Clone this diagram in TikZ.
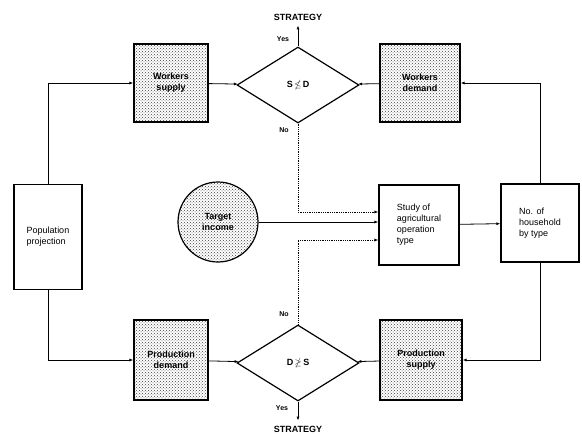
\documentclass[tikz,border=0pt]{standalone}
\usepackage{amsmath,amssymb}
\usepackage{fontspec}
\setsansfont{Liberation Sans}
\usetikzlibrary{
  arrows.meta,       % for arrow tips
  patterns,          % for stippled boxes
  shapes.geometric,  % for diamond
  positioning}
\tikzset{
  plain box/.style={
    shape=rectangle, draw, very thick, align=left, font=\sffamily\small,
    minimum width=#1, minimum height=78pt, inner sep=3pt},
  plain box/.default=78pt,
  stipple box/.style={
    plain box=#1, align=center, font=\sffamily\small\bfseries,
    pattern=crosshatch dots, pattern color=black!75},
  stipple box/.default=74pt,
  test/.style={
    shape=diamond, draw, very thick, aspect=1.6, inner sep=0pt,
    minimum width=122pt, minimum height=76pt, font=\sffamily\small\bfseries},
  small label/.style={font=\sffamily\scriptsize\bfseries, inner sep=1pt},
  flow/.style={thick, -{Latex[length=4pt,width=3pt]}},
  maybe/.style={flow, densely dotted}
}

\begin{document}
\begin{tikzpicture}[x=1pt, y=-1pt]
\useasboundingbox (0,0) rectangle (582,437);

% left and right columns
\node[plain box=68pt, minimum height=105pt] (pop) at (48,237)
  {Population\\projection};
\node[plain box] (hh) at (540,223) {No. of\\household\\by type};

% top row
\node[stipple box] (wsup) at (171,83) {Workers\\supply};
\node[test] (s-test) at (298,85) {S\,$\boldsymbol{\nleq}$\,D};
\node[stipple box=80pt] (wdem) at (420,83) {Workers\\demand};

% middle row
\node[shape=circle, draw, very thick, minimum size=80pt,
  pattern=crosshatch dots, pattern color=black!75,
  align=center, font=\sffamily\small\bfseries] (tgt) at (218,222)
  {Target\\income};
\node[plain box=80pt, minimum height=80pt] (study) at (419,225)
  {Study of\\agricultural\\operation\\type};

% bottom row
\node[stipple box, minimum height=80pt] (pdem) at (171,360)
  {Production\\demand};
\node[test] (d-test) at (298,363) {D\,$\boldsymbol{\ngeq}$\,S};
\node[stipple box=82pt, minimum height=80pt] (psup) at (421,360)
  {Production\\supply};

% strategy exits
\node[small label, font=\sffamily\small\bfseries] (strat-t) at (298,17) {STRATEGY};
\node[small label, font=\sffamily\small\bfseries] (strat-b) at (298,429) {STRATEGY};
\node[small label] (yes-t) at (283,39) {Yes};
\node[small label] (no-t)  at (284,130) {No};
\node[small label] (no-b)  at (284,314) {No};
\node[small label] (yes-b) at (282,408) {Yes};

\path[flow]
  (pop)    edge[to path={|- (\tikztotarget)}] (wsup)
           edge[to path={|- (\tikztotarget)}] (pdem)
  (wsup)   edge (s-test)
  (wdem)   edge (s-test)
  (pdem)   edge (d-test)
  (psup)   edge (d-test)
  (hh)     edge[to path={|- (\tikztotarget)}] (wdem)
           edge[to path={|- (\tikztotarget)}] (psup)
  (study)  edge (hh)
  (tgt)    edge (study.west |- tgt.east)
  (s-test) edge[shorten >=4pt] (strat-t)
  (d-test) edge[shorten >=4pt] (strat-b);

\draw[maybe] (s-test.south) |- ([yshift=13pt]study.west);
\draw[maybe] (d-test.north) |- ([yshift=-15pt]study.west);
\end{tikzpicture}
\end{document}
